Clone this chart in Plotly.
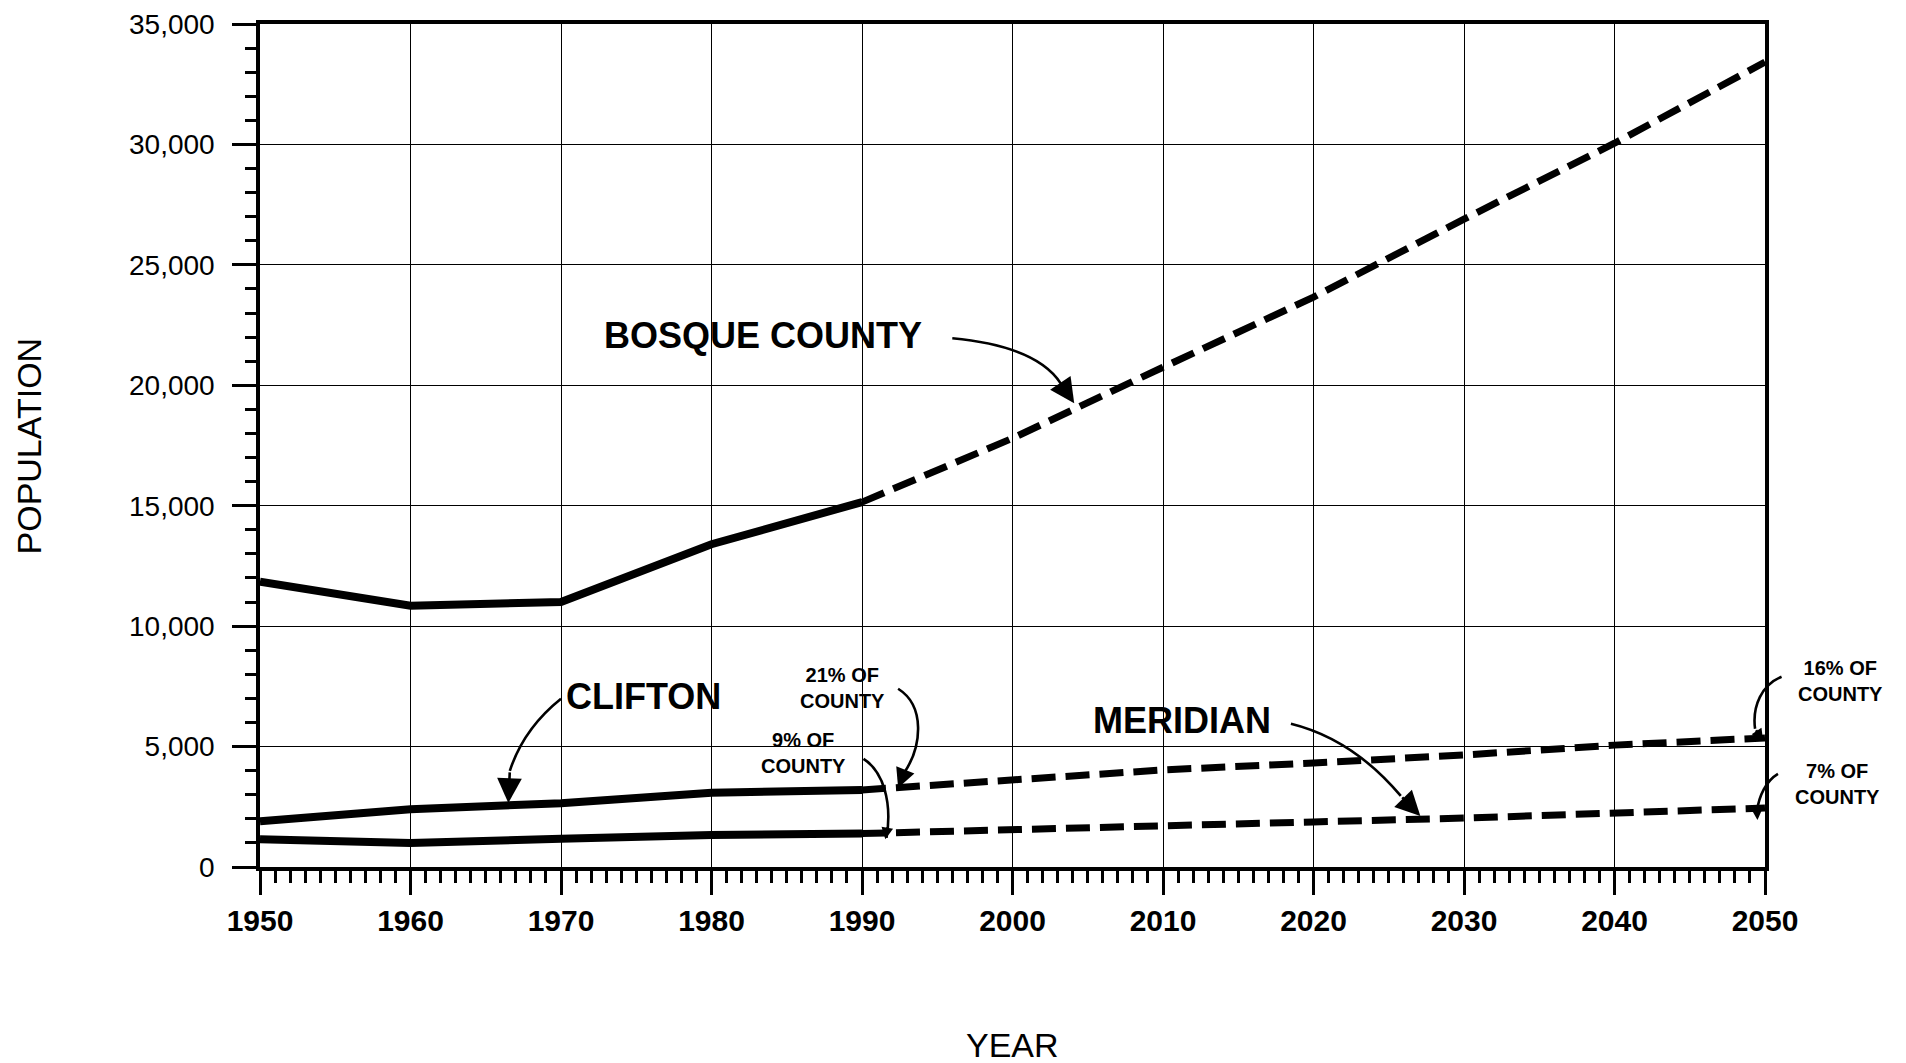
import plotly.graph_objects as go

# ---------------- data ----------------
hist_years = [1950, 1960, 1970, 1980, 1990]
proj_years = [1990, 2000, 2010, 2020, 2030, 2040, 2050]

bosque_hist = [11850, 10850, 11000, 13400, 15150]
bosque_proj = [15150, 17800, 20750, 23660, 26900, 30050, 33420]

clifton_hist = [1900, 2400, 2650, 3080, 3200]
clifton_proj = [3200, 3600, 4030, 4320, 4650, 5060, 5360]

meridian_hist = [1150, 1000, 1170, 1330, 1390]
meridian_proj = [1390, 1530, 1700, 1870, 2030, 2240, 2450]

x_ticks = list(range(1950, 2051, 10))
y_ticks = list(range(0, 35001, 5000))

XMIN, XMAX = 1950, 2050
YMIN, YMAX = 0, 35000

FONT = "Liberation Sans"

fig = go.Figure()

solid = dict(color="black", width=8)
dashed = dict(color="black", width=7, dash="24px,10px")

for yh, yp in [(bosque_hist, bosque_proj), (clifton_hist, clifton_proj), (meridian_hist, meridian_proj)]:
    fig.add_trace(go.Scatter(x=hist_years, y=yh, mode="lines", line=solid, showlegend=False, hoverinfo="skip"))
    fig.add_trace(go.Scatter(x=proj_years, y=yp, mode="lines", line=dashed, showlegend=False, hoverinfo="skip"))


# ---------------- helpers for annotations ----------------
def px(year):
    return (year - XMIN) / (XMAX - XMIN)


def py(pop):
    return (pop - YMIN) / (YMAX - YMIN)


def curve(points, kind="Q"):
    (x0, y0) = points[0]
    s = f"M {px(x0):.5f},{py(y0):.5f} {kind}"
    s += " ".join(f" {px(a):.5f},{py(b):.5f}" for a, b in points[1:])
    return s


def add_curve(points, kind="Q", width=2.6):
    fig.add_shape(type="path", path=curve(points, kind), xref="paper", yref="paper",
                  line=dict(color="black", width=width), layer="above")


def add_head(tail, tip, size=1.7, width=2.6):
    fig.add_annotation(x=tip[0], y=tip[1], ax=tail[0], ay=tail[1], xref="x", yref="y",
                       axref="x", ayref="y", text="", showarrow=True, arrowhead=2,
                       arrowsize=size, arrowwidth=width, arrowcolor="black", standoff=0)


def add_label(x, y, text, size):
    fig.add_annotation(x=px(x), y=py(y), xref="paper", yref="paper", text=text, showarrow=False,
                       xanchor="center", yanchor="middle",
                       font=dict(family=FONT, size=size, color="black"), align="center")


# big labels
add_label(1983.4, 22080, "<b>BOSQUE COUNTY</b>", 36)
add_label(1975.5, 7070, "<b>CLIFTON</b>", 36)
add_label(2011.25, 6070, "<b>MERIDIAN</b>", 36)

# small percentage labels
add_label(1988.7, 7440, "<b>21% OF<br>COUNTY</b>", 20)
add_label(1986.1, 4720, "<b>9% OF<br>COUNTY</b>", 20)
add_label(2055.0, 7730, "<b>16% OF<br>COUNTY</b>", 20)
add_label(2054.8, 3450, "<b>7% OF<br>COUNTY</b>", 20)

# Bosque arrow
add_curve([(1996.0, 21950), (2001.6, 21620), (2003.2, 20080)])
add_head((2003.2, 20080), (2004.1, 19250), size=1.9)
# Clifton arrow
add_curve([(1970.0, 6990), (1967.5, 5740), (1966.6, 3990)])
add_head((1966.6, 3990), (1966.5, 2660), size=1.9)
# Meridian arrow
add_curve([(2018.5, 5950), (2022.6, 5320), (2025.8, 2950)])
add_head((2025.8, 2950), (2027.1, 2120), size=1.9)
# 21% arrow
add_curve([(1992.4, 7400), (1994.2, 6690), (1994.0, 5030), (1992.8, 3910)], kind="C")
add_head((1992.8, 3910), (1992.4, 3280), size=1.5)
# 9% hook
add_curve([(1990.1, 4490), (1991.37, 3990), (1992.03, 2740), (1991.63, 1210)], kind="C")
add_head((1991.7, 1700), (1991.55, 1150), size=0.9)
# 16% hook
add_curve([(2051.1, 7900), (2049.8, 7570), (2049.14, 6690), (2049.34, 5740)], kind="C")
add_head((2049.34, 5740), (2049.87, 5240), size=0.9)
# 7% hook
add_curve([(2050.86, 3870), (2050.07, 3576), (2049.6, 2950), (2049.47, 2330)], kind="C")
add_head((2049.47, 2330), (2049.5, 1950), size=0.9)

# axis titles
fig.add_annotation(x=0.5, y=-0.211, xref="paper", yref="paper", text="YEAR", showarrow=False,
                   xanchor="center", yanchor="middle",
                   font=dict(family=FONT, size=34, color="black"))
fig.add_annotation(x=-0.1535, y=0.5, xref="paper", yref="paper", text="POPULATION", showarrow=False,
                   textangle=-90, xanchor="center", yanchor="middle",
                   font=dict(family=FONT, size=34, color="black"))

fig.update_xaxes(
    range=[XMIN, XMAX], tickvals=x_ticks, ticktext=[f"<b>{v}</b>" for v in x_ticks],
    showgrid=True, gridcolor="black", gridwidth=1.2,
    showline=True, linecolor="black", linewidth=3.5, mirror=True,
    ticks="outside", ticklen=24, tickwidth=3, tickcolor="black",
    ticklabelstandoff=0, automargin=False,
    minor=dict(dtick=1, ticks="outside", ticklen=12, tickwidth=2.5, tickcolor="black", showgrid=False),
    tickfont=dict(family=FONT, size=30, color="black"), zeroline=False,
)
fig.update_yaxes(
    range=[YMIN, YMAX], tickvals=y_ticks, ticktext=[f"{v:,}" for v in y_ticks],
    showgrid=True, gridcolor="black", gridwidth=1.2,
    showline=True, linecolor="black", linewidth=3.5, mirror=True,
    ticks="outside", ticklen=24, tickwidth=3, tickcolor="black",
    ticklabelstandoff=12, automargin=False,
    minor=dict(dtick=1000, ticks="outside", ticklen=11, tickwidth=2.5, tickcolor="black", showgrid=False),
    tickfont=dict(family=FONT, size=28, color="black"), zeroline=False,
)

# the page has an 8px body margin: place the figure so the plot lands where the reference has it
fig.update_layout(
    width=1898, height=1055,
    margin=dict(l=252, r=141, t=16, b=196, autoexpand=False),
    paper_bgcolor="white", plot_bgcolor="white",
    showlegend=False,
)

fig.write_html("out.html")
